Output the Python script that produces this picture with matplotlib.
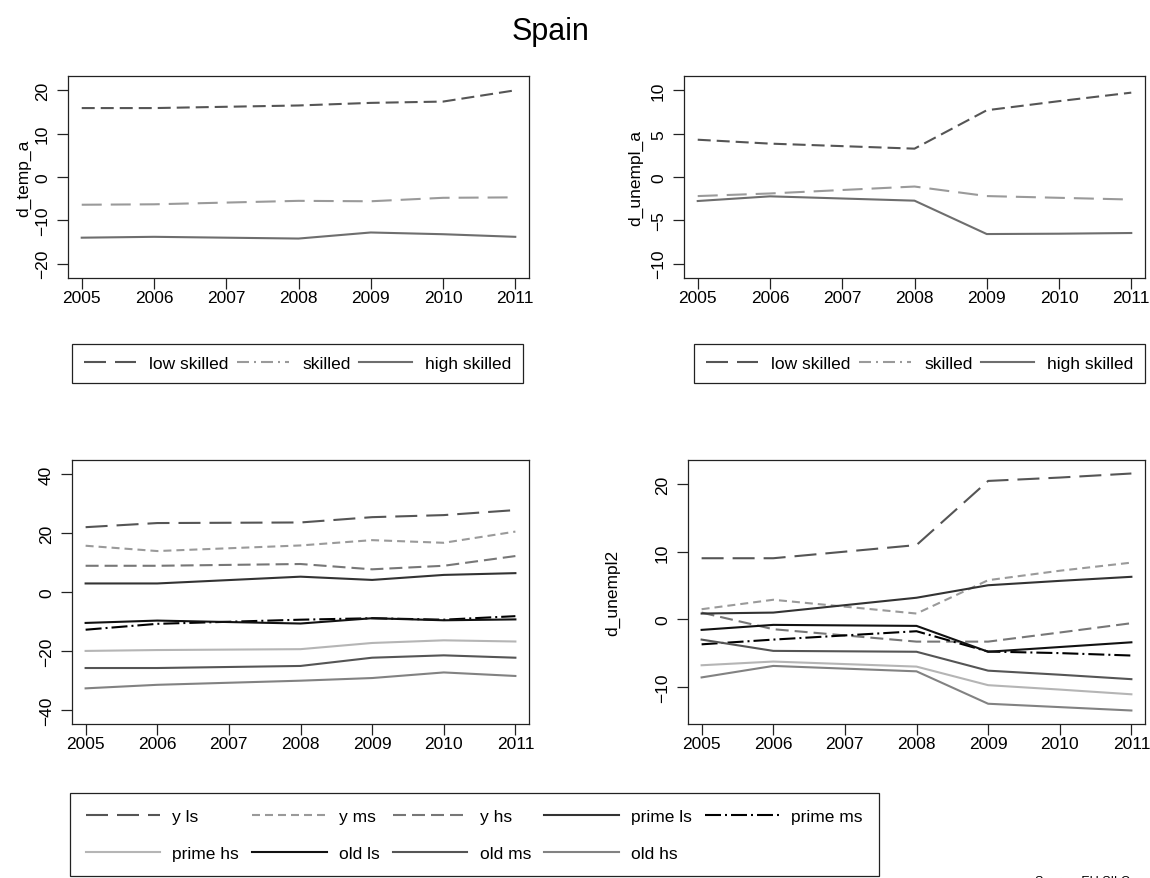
import matplotlib
matplotlib.use("Agg")
import matplotlib.pyplot as plt
from matplotlib.lines import Line2D

# ---------------- data ----------------
years = [2005, 2006, 2008, 2009, 2010, 2011]
year_ticks = [2005, 2006, 2007, 2008, 2009, 2010, 2011]

# top-left: d_temp_a
temp_low = [15.9, 15.9, 16.5, 17.1, 17.4, 20.0]
temp_skilled = [-6.4, -6.3, -5.5, -5.6, -4.8, -4.7]
temp_high = [-14.0, -13.8, -14.2, -12.8, -13.2, -13.8]

# top-right: d_unempl_a
unem_low = [4.3, 3.85, 3.27, 7.7, 8.75, 9.73]
unem_skilled = [-2.2, -1.9, -1.1, -2.2, -2.4, -2.6]
unem_high = [-2.77, -2.23, -2.73, -6.58, -6.54, -6.46]

# bottom-left (temp, 9 groups)
bl_y_ls = [22.0, 23.4, 23.6, 25.4, 26.1, 27.8]
bl_y_ms = [15.7, 13.9, 15.8, 17.6, 16.7, 20.5]
bl_y_hs = [8.9, 8.9, 9.5, 7.7, 8.9, 12.2]
bl_prime_ls = [2.9, 2.9, 5.2, 4.1, 5.8, 6.4]
bl_prime_ms = [-12.8, -10.8, -9.4, -8.9, -9.4, -8.2]
bl_prime_hs = [-20.0, -19.7, -19.4, -17.3, -16.4, -16.8]
bl_old_ls = [-10.5, -9.7, -10.7, -8.9, -9.6, -9.3]
bl_old_ms = [-25.8, -25.8, -25.1, -22.3, -21.5, -22.3]
bl_old_hs = [-32.7, -31.5, -30.1, -29.2, -27.3, -28.5]

# bottom-right: d_unempl2
br_y_ls = [9.05, 9.05, 11.0, 20.5, 21.0, 21.6]
br_y_ms = [1.5, 2.9, 0.86, 5.8, 7.2, 8.4]
br_y_hs = [1.0, -1.46, -3.3, -3.3, -1.95, -0.57]
br_prime_ls = [0.86, 1.0, 3.2, 5.05, 5.7, 6.3]
br_prime_ms = [-3.7, -3.0, -1.76, -4.77, -5.0, -5.36]
br_prime_hs = [-6.8, -6.25, -7.0, -9.75, -10.4, -11.1]
br_old_ls = [-1.56, -0.82, -0.97, -4.8, -4.1, -3.4]
br_old_ms = [-3.0, -4.67, -4.8, -7.6, -8.2, -8.86]
br_old_hs = [-8.6, -6.9, -7.7, -12.5, -13.0, -13.5]

top_labels = ["low skilled", "skilled", "high skilled"]
group_labels = ["y ls", "y ms", "y hs", "prime ls", "prime ms",
                "prime hs", "old ls", "old ms", "old hs"]

# ---------------- styles ----------------
plt.rcParams["font.family"] = ["Liberation Sans", "DejaVu Sans"]
plt.rcParams["lines.scale_dashes"] = False
P = 0.72  # px -> pt at 100 dpi

def dash(*px):
    return (0, tuple(v * P for v in px))

top_styles = [
    dict(color="#555555", ls=dash(13, 6)),
    dict(color="#9a9a9a", ls=dash(20, 9)),
    dict(color="#6e6e6e", ls="-"),
]
top_leg_styles = [
    dict(color="#555555", ls=dash(22, 9)),
    dict(color="#9a9a9a", ls=dash(12, 5, 2, 5)),
    dict(color="#6e6e6e", ls="-"),
]
grp_styles = [
    dict(color="#555555", ls=dash(22, 9)),
    dict(color="#9a9a9a", ls=dash(8, 5)),
    dict(color="#777777", ls=dash(13, 6)),
    dict(color="#333333", ls="-"),
    dict(color="#000000", ls=dash(16, 4, 2, 4)),
    dict(color="#b5b5b5", ls="-"),
    dict(color="#111111", ls="-"),
    dict(color="#555555", ls="-"),
    dict(color="#828282", ls="-"),
]
LW = 1.5
FS = 12.5

W, H = 1150, 879
fig = plt.figure(figsize=(W / 100, H / 100), dpi=100)

def px_axes(x0, x1, y0, y1):
    return fig.add_axes([x0 / W, 1 - y1 / H, (x1 - x0) / W, (y1 - y0) / H])

def style_axes(ax, ylim, yticks, ylabel, ylabel_x):
    ax.set_xlim(2004.81, 2011.19)
    ax.set_ylim(*ylim)
    ax.set_xticks(year_ticks)
    ax.set_xticklabels([str(y) for y in year_ticks], fontsize=FS)
    ax.set_yticks(yticks)
    ax.set_yticklabels([str(v).replace("-", "\u2212") for v in yticks],
                       fontsize=FS, rotation=90, va="center")
    ax.tick_params(direction="out", length=8, width=0.9, color="#222222")
    ax.tick_params(axis="x", pad=0.5)
    ax.tick_params(axis="y", pad=5)
    for s in ax.spines.values():
        s.set_linewidth(0.9)
        s.set_color("#222222")
    if ylabel:
        ax.set_ylabel(ylabel, fontsize=FS)
        ax.yaxis.set_label_coords(ylabel_x, 0.5)

# ---------------- top-left ----------------
ax1 = px_axes(68, 529, 77, 279)
for vals, st in zip([temp_low, temp_skilled, temp_high], top_styles):
    ax1.plot(years, vals, lw=LW, color=st["color"], linestyle=st["ls"])
style_axes(ax1, (-23.3, 23.3), [-20, -10, 0, 10, 20], "d_temp_a", -0.079)

# ---------------- top-right ----------------
ax2 = px_axes(684, 1145, 77, 279)
for vals, st in zip([unem_low, unem_skilled, unem_high], top_styles):
    ax2.plot(years, vals, lw=LW, color=st["color"], linestyle=st["ls"])
style_axes(ax2, (-11.65, 11.65), [-10, -5, 0, 5, 10], "d_unempl_a", -0.088)

# ---------------- bottom-left ----------------
ax3 = px_axes(72, 529, 461, 725)
bl = [bl_y_ls, bl_y_ms, bl_y_hs, bl_prime_ls, bl_prime_ms,
      bl_prime_hs, bl_old_ls, bl_old_ms, bl_old_hs]
for vals, st in zip(bl, grp_styles):
    ax3.plot(years, vals, lw=LW, color=st["color"], linestyle=st["ls"])
style_axes(ax3, (-44.8, 44.8), [-40, -20, 0, 20, 40], None, 0)

# ---------------- bottom-right ----------------
ax4 = px_axes(688, 1145, 461, 725)
br = [br_y_ls, br_y_ms, br_y_hs, br_prime_ls, br_prime_ms,
      br_prime_hs, br_old_ls, br_old_ms, br_old_hs]
for vals, st in zip(br, grp_styles):
    ax4.plot(years, vals, lw=LW, color=st["color"], linestyle=st["ls"])
style_axes(ax4, (-15.5, 23.6), [-10, 0, 10, 20], "d_unempl2", -0.149)

# ---------------- title ----------------
fig.text(551 / W, 1 - 40 / H, "Spain", fontsize=22, ha="center", va="baseline")

# ---------------- legends ----------------
def top_legend(x_left, y_top):
    handles = [Line2D([], [], lw=LW, color=s["color"], linestyle=s["ls"])
               for s in top_leg_styles]
    lg = fig.legend(handles, top_labels, ncol=3, loc="upper left",
                    bbox_to_anchor=(x_left / W, 1 - y_top / H),
                    fontsize=FS, frameon=True, fancybox=False,
                    edgecolor="#222222", framealpha=1, borderpad=0.7,
                    handlelength=3.0, handletextpad=0.75, columnspacing=0.5,
                    borderaxespad=0)
    lg.get_frame().set_linewidth(0.9)
    return lg

top_legend(72, 345)
top_legend(694, 345)

gh = [Line2D([], [], lw=LW, color=s["color"], linestyle=s["ls"]) for s in grp_styles]
order = [0, 5, 1, 6, 2, 7, 3, 8, 4]  # row-major layout in 5 columns
lg = fig.legend([gh[i] for i in order], [group_labels[i] for i in order],
                ncol=5, loc="upper left", bbox_to_anchor=(70 / W, 1 - 794 / H),
                fontsize=FS, frameon=True, fancybox=False, edgecolor="#222222",
                framealpha=1, borderpad=0.9, handlelength=4.3, handletextpad=0.7,
                columnspacing=0.75, labelspacing=1.25, borderaxespad=0)
lg.get_frame().set_linewidth(0.9)

fig.text(1130 / W, 1 - 876 / H, "Source: EU SILC", fontsize=9, ha="right", va="top")

fig.savefig("out.png", dpi=100)
